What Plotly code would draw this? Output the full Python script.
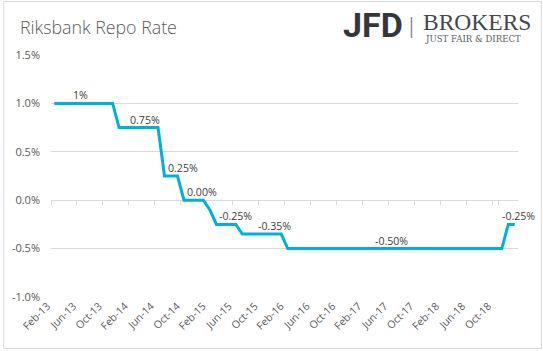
import pandas as pd
import plotly.graph_objects as go

# ---- data ----
months = pd.date_range("2013-02-01", periods=72, freq="MS").strftime("%b-%y").tolist()
repo_rate = [
    1.00, 1.00, 1.00, 1.00, 1.00, 1.00, 1.00, 1.00, 1.00, 1.00, 0.75,                 # Feb-13..Dec-13
    0.75, 0.75, 0.75, 0.75, 0.75, 0.75, 0.25, 0.25, 0.25, 0.00, 0.00, 0.00,           # 2014
    0.00, -0.10, -0.25, -0.25, -0.25, -0.25, -0.35, -0.35, -0.35, -0.35, -0.35, -0.35,  # 2015
    -0.35, -0.50, -0.50, -0.50, -0.50, -0.50, -0.50, -0.50, -0.50, -0.50, -0.50, -0.50,  # 2016
    -0.50, -0.50, -0.50, -0.50, -0.50, -0.50, -0.50, -0.50, -0.50, -0.50, -0.50, -0.50,  # 2017
    -0.50, -0.50, -0.50, -0.50, -0.50, -0.50, -0.50, -0.50, -0.50, -0.50, -0.50, -0.25,  # 2018
    -0.25,                                                                              # Jan-19
]
label_idx = [4, 14, 19, 23, 28, 34, 52, 71]
label_text = ["1%", "0.75%", "0.25%", "0.00%", "-0.25%", "-0.35%", "-0.50%", "-0.25%"]
label_xshift = [0, 0, 6, -1, 0, 0, 0, 4]
tick_labels = months[::4]
y_ticks = [-1.0, -0.5, 0.0, 0.5, 1.0, 1.5]

TXT = "#595959"
GRID = "#D9D9D9"
LINE = "#00B0DA"
FONT = "Open Sans"

W, H = 543, 351
ML, MR, MT, MB = 49, 25, 55, 54
PW, PH = W - ML - MR, H - MT - MB

fig = go.Figure()
fig.add_trace(go.Scatter(x=months, y=repo_rate, mode="lines",
                         line=dict(color=LINE, width=3), hoverinfo="skip"))
# invisible trace to materialise the zero-line category axis
fig.add_trace(go.Scatter(x=months, y=repo_rate, mode="lines", xaxis="x2",
                         line=dict(width=0), opacity=0, hoverinfo="skip"))

for i, t, dx in zip(label_idx, label_text, label_xshift):
    fig.add_annotation(x=months[i], y=repo_rate[i], text=t, showarrow=False,
                       xshift=dx, yshift=8, yanchor="middle",
                       font=dict(family=FONT, size=10.6, color="#404040"))

def px_x(px):
    return (px - ML) / PW

def px_y(py):
    return (H - MB - py) / PH

# title
fig.add_annotation(xref="paper", yref="paper", x=px_x(16), y=px_y(27),
                   xanchor="left", yanchor="middle", text="Riksbank Repo Rate", showarrow=False,
                   font=dict(family=FONT, size=17.8, color=TXT, weight=300))

# logo
fig.add_annotation(xref="paper", yref="paper", x=px_x(340), y=px_y(25.5), xanchor="left", yanchor="middle",
                   text="<b>JFD</b>", showarrow=False,
                   font=dict(family="Roboto", size=34, color="#33373c"))
fig.add_annotation(xref="paper", yref="paper", x=px_x(411), y=px_y(25), xanchor="center", yanchor="middle",
                   text="|", showarrow=False,
                   font=dict(family="Liberation Serif", size=24, color="#777b80"))
fig.add_annotation(xref="paper", yref="paper", x=px_x(421), y=px_y(22), xanchor="left", yanchor="middle",
                   text="BROKERS", showarrow=False,
                   font=dict(family="Liberation Serif", size=23.5, color="#44484d"))
fig.add_annotation(xref="paper", yref="paper", x=px_x(423), y=px_y(38.5), xanchor="left", yanchor="middle",
                   text="JUST FAIR &amp; DIRECT", showarrow=False,
                   font=dict(family="DejaVu Serif", size=8.6, color="#5a5e63"))

# outer frame
fig.add_shape(type="rect", xref="paper", yref="paper",
              x0=px_x(1.5), x1=px_x(541.5), y0=px_y(348.5), y1=px_y(1.5),
              line=dict(color=GRID, width=1), fillcolor="rgba(0,0,0,0)", layer="below")

fig.update_layout(
    width=W, height=H, margin=dict(l=ML, r=MR, t=MT, b=MB),
    paper_bgcolor="white", plot_bgcolor="white", showlegend=False,
    xaxis=dict(type="category", categoryorder="array", categoryarray=months,
               range=[-0.5, len(months) - 0.5], tickmode="array", tickvals=tick_labels,
               ticktext=tick_labels, tickangle=-45, showgrid=False, ticks="", showline=False,
               zeroline=False, ticklabelshift=-7,
               tickfont=dict(family=FONT, size=10.5, color=TXT)),
    xaxis2=dict(type="category", categoryorder="array", categoryarray=months, overlaying="x",
                matches="x", anchor="free", position=0.4, side="bottom", layer="below traces",
                tickmode="array", tickvals=tick_labels, tickson="boundaries",
                ticks="outside", ticklen=4, tickcolor=GRID, tickwidth=1,
                showline=True, linecolor=GRID, linewidth=1, showgrid=False,
                showticklabels=False, zeroline=False),
    yaxis=dict(range=[-1.0, 1.5], tickmode="array", tickvals=y_ticks,
               ticktext=[f"{v:.1f}%" for v in y_ticks], showgrid=True, gridcolor=GRID,
               gridwidth=1, zeroline=False, showline=False, ticks="", ticklabelstandoff=10,
               tickfont=dict(family=FONT, size=11, color=TXT)),
)

fig.write_html("out.html")
